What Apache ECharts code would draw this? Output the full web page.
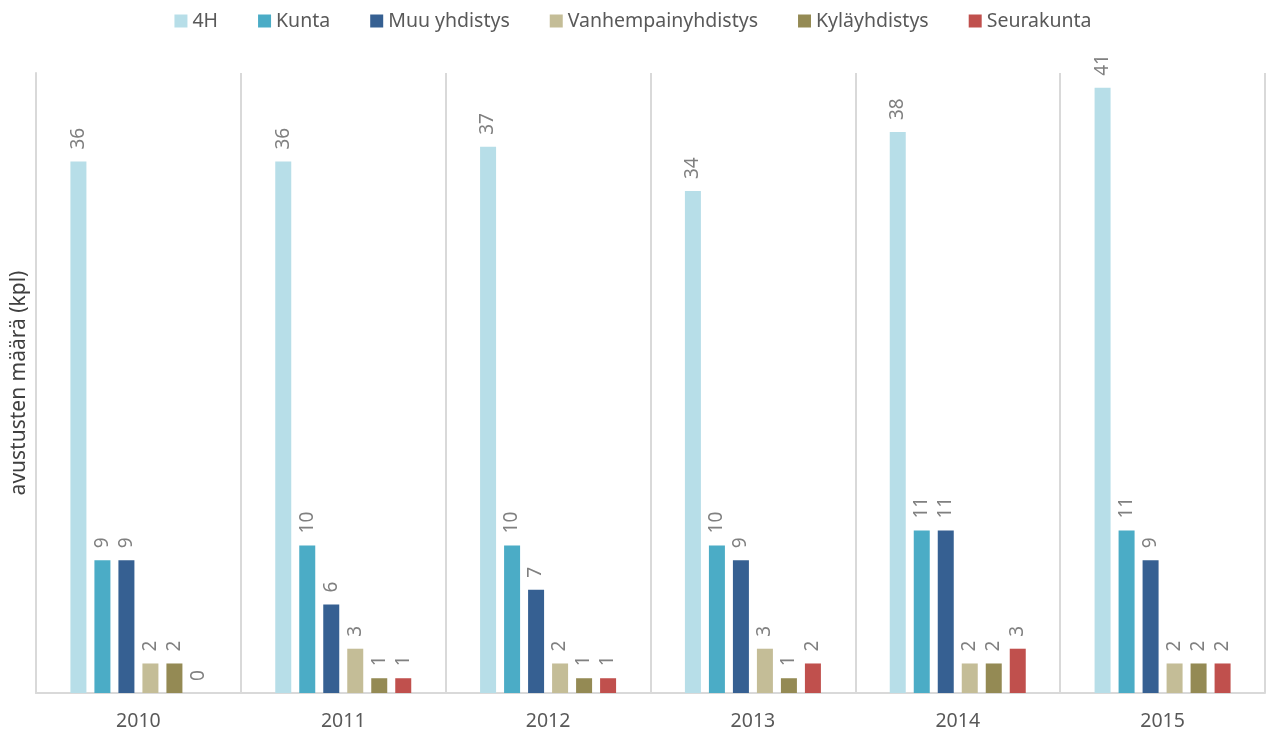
<!DOCTYPE html>
<html>
<head>
<meta charset="utf-8">
<script src="https://cdn.jsdelivr.net/npm/echarts@6/dist/echarts.min.js"></script>
<style>
  html, body { margin: 0; padding: 0; background: #fff; }
  #chart { width: 1266px; height: 734px; }
</style>
</head>
<body>
<div id="chart"></div>
<script>
// vuodet
const years = ["2010", "2011", "2012", "2013", "2014", "2015"];

// avustusten määrä hakijatyypeittäin
const h4 = [36, 36, 37, 34, 38, 41];
const kunta = [9, 10, 10, 10, 11, 11];
const muuYhdistys = [9, 6, 7, 9, 11, 9];
const vanhempainyhdistys = [2, 3, 2, 3, 2, 2];
const kylayhdistys = [2, 1, 1, 1, 2, 2];
const seurakunta = [0, 1, 1, 2, 3, 2];

const seriesNames = ["4H", "Kunta", "Muu yhdistys", "Vanhempainyhdistys", "Kyläyhdistys", "Seurakunta"];
const seriesData = [h4, kunta, muuYhdistys, vanhempainyhdistys, kylayhdistys, seurakunta];
const colors = ["#B7DEE8", "#4BACC6", "#366092", "#C4BD97", "#948A54", "#C0504D"];

const font = "Noto Sans";
const chart = echarts.init(document.getElementById("chart"));

chart.setOption({
  animation: false,
  color: colors,
  legend: {
    top: 6,
    left: "center",
    itemWidth: 13,
    itemHeight: 13,
    itemGap: 40,
    icon: "rect",
    textStyle: { fontFamily: font, fontSize: 19.5, color: "#595959" },
    data: seriesNames,
  },
  grid: {
    left: 36,
    right: 1,
    top: 73,
    bottom: 41,
    outerBoundsMode: "none",
  },
  xAxis: {
    type: "category",
    data: years,
    axisTick: { show: false },
    axisLine: { lineStyle: { color: "#d9d9d9", width: 2 } },
    axisLabel: { fontFamily: font, fontSize: 19.5, color: "#595959", margin: 18 },
    splitLine: { show: true, lineStyle: { color: "#d9d9d9", width: 2 } },
  },
  yAxis: {
    type: "value",
    min: 0,
    max: 42,
    name: "avustusten määrä (kpl)",
    nameLocation: "middle",
    nameGap: 6,
    nameTextStyle: { fontFamily: font, fontSize: 21, color: "#404040" },
    axisLabel: { show: false },
    axisTick: { show: false },
    axisLine: { show: true, lineStyle: { color: "#d9d9d9", width: 2 } },
    splitLine: { show: false },
  },
  series: seriesNames.map((name, i) => ({
    name: name,
    type: "bar",
    data: seriesData[i],
    barWidth: 16,
    barGap: "50%",
    label: {
      show: true,
      position: "top",
      rotate: 90,
      align: "left",
      verticalAlign: "middle",
      distance: 12,
      fontFamily: font,
      fontSize: 19,
      color: "#808080",
    },
  })),
});
</script>
</body>
</html>
